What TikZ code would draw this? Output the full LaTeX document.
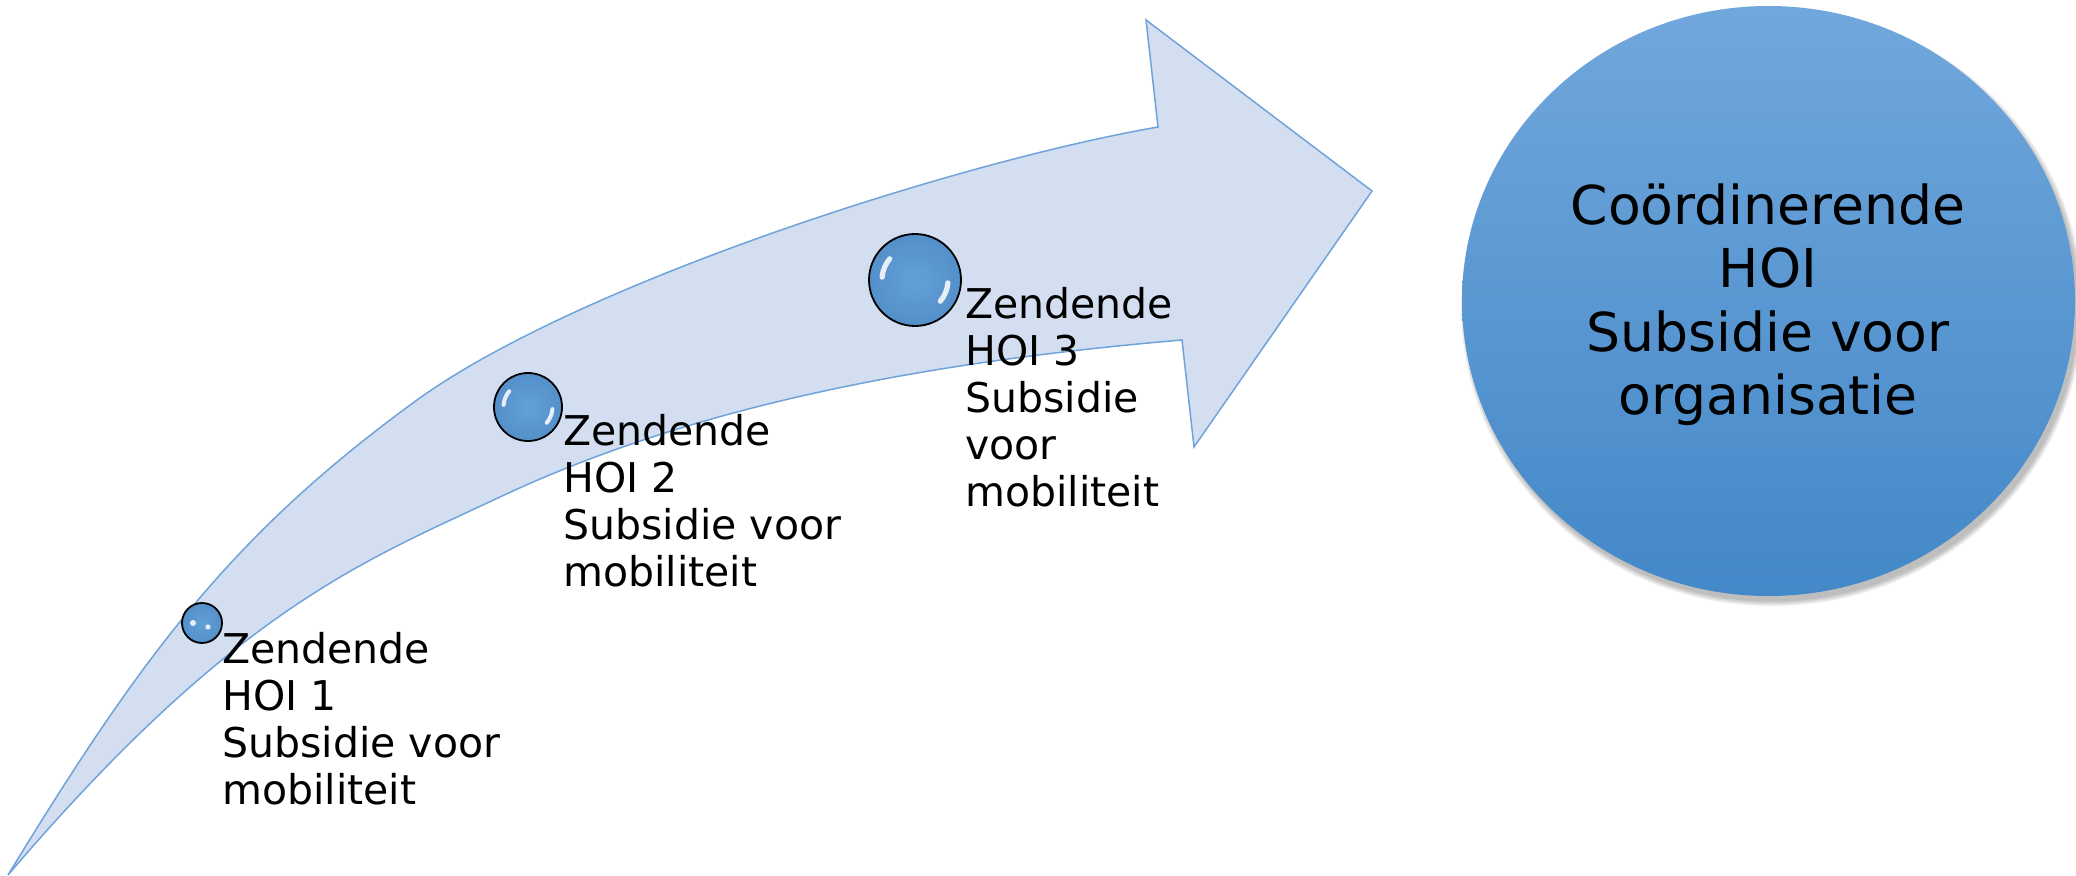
\documentclass[tikz,border=0pt]{standalone}
\usepackage{fontspec}
\setmainfont{DejaVu Sans}
\definecolor{arrowfill}{HTML}{D3DEF0}
\definecolor{arrowline}{HTML}{6FA3DA}
\definecolor{bubin}{HTML}{62A1D8}
\definecolor{bubout}{HTML}{548FC9}
\definecolor{bigtop}{HTML}{71A7DC}
\definecolor{bigbot}{HTML}{4388C8}
\begin{document}
\begin{tikzpicture}[x=0.5pt,y=-0.5pt,
  arrowshape/.style={fill=arrowfill, draw=arrowline, line width=0.75pt, line join=miter},
  bub/.style={circle, draw=black, line width=0.9pt, inner sep=0pt, inner color=bubin, outer color=bubout},
  shine/.style={draw=white, line cap=round, opacity=0.85},
  lbl/.style={anchor=north west, align=left, inner sep=0pt, font=\fontsize{20.5}{23.5}\selectfont},
  bigtxt/.style={anchor=north, align=center, inner sep=0pt, font=\fontsize{26.8}{31.8}\selectfont}]
\useasboundingbox (0,0) rectangle (2076,876);
% curved arrow
\draw[arrowshape]
  (8,875) .. controls (141,657) and (231,535) .. (417,400)
  .. controls (579,283) and (961,161) .. (1158,127)
  -- (1146,20) -- (1372,191) -- (1194,447) -- (1182,340)
  .. controls (953,359.6) and (708,399) .. (500,497)
  .. controls (364,561) and (235,609) .. (8,875)
  -- cycle;
% big circle with shadow
\foreach \k in {1,...,4}{
  \fill[black, opacity=0.07] (1772,307) ellipse[x radius=305+\k*1.5, y radius=293+\k*1.5];
}
\shade[top color=bigtop, bottom color=bigbot] (1768.5,301) ellipse[x radius=306.5, y radius=295];
\node[bigtxt] (coord) at (1768,183) {Coördinerende\\HOI\\Subsidie voor\\organisatie};
% bubbles
\node[bub, minimum size=20pt] (b1) at (202,623) {};
\fill[white, opacity=0.85] ([shift={(-9,0)}]b1.center) circle[radius=3];
\fill[white, opacity=0.85] ([shift={(6,4)}]b1.center) circle[radius=2.6];
\node[bub, minimum size=34pt] (b2) at (528,407) {};
\draw[shine, line width=2pt] ([shift={(-175:24.5)}]b2.center) arc[start angle=-175, end angle=-140, radius=24.5];
\draw[shine, line width=2pt] ([shift={(5:24.5)}]b2.center) arc[start angle=5, end angle=40, radius=24.5];
\node[bub, minimum size=46pt] (b3) at (915,280) {};
\draw[shine, line width=2.6pt] ([shift={(-175:33)}]b3.center) arc[start angle=-175, end angle=-140, radius=33];
\draw[shine, line width=2.6pt] ([shift={(5:33)}]b3.center) arc[start angle=5, end angle=40, radius=33];
% labels
\node[lbl] (t1) at (222,632) {Zendende\\HOI 1\\Subsidie voor\\mobiliteit};
\node[lbl] (t2) at (563,414) {Zendende\\HOI 2\\Subsidie voor\\mobiliteit};
\node[lbl] (t3) at (965,287) {Zendende\\HOI 3\\Subsidie\\voor\\mobiliteit};
\end{tikzpicture}
\end{document}
